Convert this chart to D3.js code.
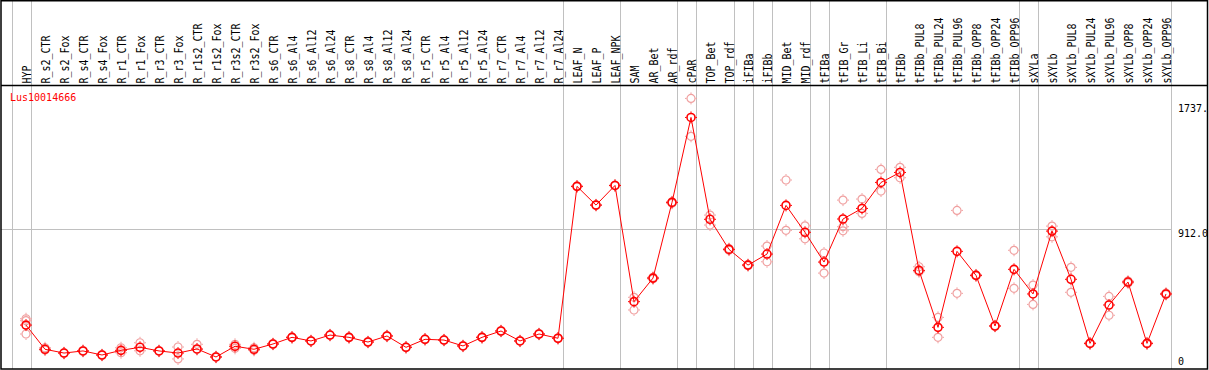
<!DOCTYPE html>
<html>
<head>
<meta charset="utf-8">
<script src="https://cdn.jsdelivr.net/npm/d3@7"></script>
<style>
  body { margin: 0; background: #fff; }
  text { font-family: "DejaVu Sans Mono", monospace; font-size: 10px; }
</style>
</head>
<body>
<div id="chart"></div>
<script>
let categories = ["HYP", "R_s2_CTR", "R_s2_Fox", "R_s4_CTR", "R_s4_Fox", "R_r1_CTR", "R_r1_Fox",
    "R_r3_CTR", "R_r3_Fox", "R_r1s2_CTR", "R_r1s2_Fox", "R_r3s2_CTR", "R_r3s2_Fox",
    "R_s6_CTR", "R_s6_Al4", "R_s6_Al12", "R_s6_Al24", "R_s8_CTR", "R_s8_Al4", "R_s8_Al12", "R_s8_Al24",
    "R_r5_CTR", "R_r5_Al4", "R_r5_Al12", "R_r5_Al24", "R_r7_CTR", "R_r7_Al4", "R_r7_Al12", "R_r7_Al24",
    "LEAF_N", "LEAF_P", "LEAF_NPK", "SAM", "AR_Bet", "AR_rdf", "cPAR", "TOP_Bet", "TOP_rdf",
    "iFIBa", "iFIBb", "MID_Bet", "MID_rdf", "tFIBa", "tFIB_Gr", "tFIB_Li", "tFIB_Bi",
    "tFIBb", "tFIBb_PUL8", "tFIBb_PUL24", "tFIBb_PUL96", "tFIBb_OPP8", "tFIBb_OPP24", "tFIBb_OPP96",
    "sXYLa", "sXYLb", "sXYLb_PUL8", "sXYLb_PUL24", "sXYLb_PUL96", "sXYLb_OPP8", "sXYLb_OPP24", "sXYLb_OPP96"];

// number of categories in each tissue group (separated by grey lines)
let groupSizes = [1, 28, 3, 3, 1, 2, 1, 1, 2, 1, 3, 7, 1, 7];

let means = [274, 114, 89, 103, 76, 107, 127, 103, 89, 116, 63, 134, 114,
    149, 193, 169, 208, 193, 162, 202, 127, 180, 175, 136, 193, 235, 169, 215, 187,
    1192, 1068, 1198, 429, 585, 1086, 1648, 974, 775,
    671, 744, 1066, 888, 691, 976, 1046, 1218,
    1284, 636, 259, 762, 603, 268, 643,
    480, 896, 577, 153, 407, 559, 153, 480];

let replicates = [[316, 303, 215], [124, 109], [91, 87], [106, 100], [78, 74], [124, 91], [157, 104],
    [105, 101], [129, 50], [147, 112], [65, 61], [147, 120], [124, 107],
    [151, 147], [195, 191], [171, 167], [210, 206], [195, 191], [164, 160], [204, 200], [129, 125],
    [182, 178], [177, 173], [138, 134], [195, 191], [237, 233], [171, 167], [217, 213], [189, 185],
    [1194, 1190], [1070, 1066], [1200, 1196], [458, 374], [590, 580], [1090, 1080], [1774, 1523], [1002, 936], [780, 770],
    [675, 667], [797, 693], [1234, 901], [931, 845], [751, 618], [1101, 925, 898], [1108, 1013], [1304, 1161],
    [1318, 1249], [660, 627], [325, 193], [1033, 484], [606, 600], [270, 266], [769, 517],
    [539, 411], [929, 858], [656, 491], [156, 150], [464, 339], [565, 553], [156, 150], [485, 476]];

let tickValues = [0, 912, 1737];
let tickLabels = ["0", "912.0", "1737."];
let geneName = "Lus10014666";

let width = 1209;
let height = 370;
let headerBottom = 85.5;
let plotRight = 1207.5;
let plotBottom = 369;
let lightRed = "#f0a0a0";

let svg = d3.select("#chart")
    .append('svg')
    .attr('width', width)
    .attr('height', height);

let x = d3.scalePoint()
    .domain(categories)
    .range([26, 1166]);
let step = x.step();

let y = d3.scaleLinear()
    .domain([0, 1737])
    .range([366.5, 104]);

// group separators: one before the first column and one after each group
let ends = d3.cumsum(groupSizes);
let sepX = [x(categories[0]) - step + 4.7].concat(Array.from(ends, e => x(categories[e - 1]) + 4.7));

let grid = svg.append('g').attr('class', 'grid');
grid.selectAll('line.sep')
    .data(sepX)
    .enter()
    .append('line')
    .attr('class', 'sep')
    .attr('x1', d => Math.round(d) + 0.5)
    .attr('x2', d => Math.round(d) + 0.5)
    .attr('y1', 0)
    .attr('y2', plotBottom)
    .style('stroke', '#c0c0c0')
    .style('stroke-width', 1);

// horizontal reference line at the middle tick only
grid.append('line')
    .attr('x1', 1)
    .attr('x2', Math.round(sepX[sepX.length - 1]) + 0.5)
    .attr('y1', Math.round(y(tickValues[1])) + 0.5)
    .attr('y2', Math.round(y(tickValues[1])) + 0.5)
    .style('stroke', '#c0c0c0');

// frame
let frame = svg.append('g').attr('class', 'frame')
    .style('stroke', '#000')
    .style('stroke-width', 1.5)
    .style('fill', 'none');
frame.append('rect')
    .attr('x', 1)
    .attr('y', 0.75)
    .attr('width', plotRight - 1)
    .attr('height', plotBottom - 0.75);
frame.append('line')
    .attr('x1', 1).attr('x2', plotRight)
    .attr('y1', headerBottom).attr('y2', headerBottom);

// rotated column labels (glyphs a little taller than wide, like the original bitmap font)
svg.append('g')
    .attr('class', 'labels')
    .selectAll('text')
    .data(categories)
    .enter()
    .append('text')
    .attr('transform', d => 'translate(' + (x(d) + 4.5) + ',' + (headerBottom - 2) + ') rotate(-90) scale(1,1.18)')
    .style('fill', '#000')
    .text(d => d);

// right-hand value labels
svg.append('g')
    .attr('class', 'yaxis')
    .selectAll('text')
    .data(tickValues)
    .enter()
    .append('text')
    .attr('x', 1178)
    .attr('y', d => d === 0 ? y(d) - 1.5 : y(d) + 8)
    .style('fill', '#000')
    .text((d, i) => tickLabels[i]);

svg.append('text')
    .attr('x', 10)
    .attr('y', 101)
    .style('fill', '#ff0000')
    .text(geneName);

// marker: small circle with four pixel ticks
function marker(g, color, w) {
    g.append('circle')
        .attr('r', 4)
        .style('fill', 'none')
        .style('stroke', color)
        .style('stroke-width', w);
    g.append('path')
        .attr('d', 'M0,-6V-4.5M0,4.5V6M-6,0H-4.5M4.5,0H6')
        .style('stroke', color)
        .style('stroke-width', 1);
}

let reps = [];
categories.forEach(function (c, i) {
    replicates[i].forEach(function (v) {
        reps.push({ cat: c, value: v });
    });
});

let chart = svg.append('g').attr('class', 'series');
chart.selectAll('g.rep')
    .data(reps)
    .enter()
    .append('g')
    .attr('class', 'rep')
    .attr('transform', d => 'translate(' + x(d.cat) + ',' + y(d.value) + ')')
    .each(function () { marker(d3.select(this), lightRed, 1.2); });

let line = d3.line()
    .x((d, i) => x(categories[i]))
    .y(d => y(d));
chart.append('path')
    .datum(means)
    .attr('d', line)
    .style('fill', 'none')
    .style('stroke', '#ff0000')
    .style('stroke-width', 1);

chart.selectAll('g.mean')
    .data(means)
    .enter()
    .append('g')
    .attr('class', 'mean')
    .attr('transform', (d, i) => 'translate(' + x(categories[i]) + ',' + y(d) + ')')
    .each(function () { marker(d3.select(this), '#ff0000', 1.6); });
</script>
</body>
</html>
